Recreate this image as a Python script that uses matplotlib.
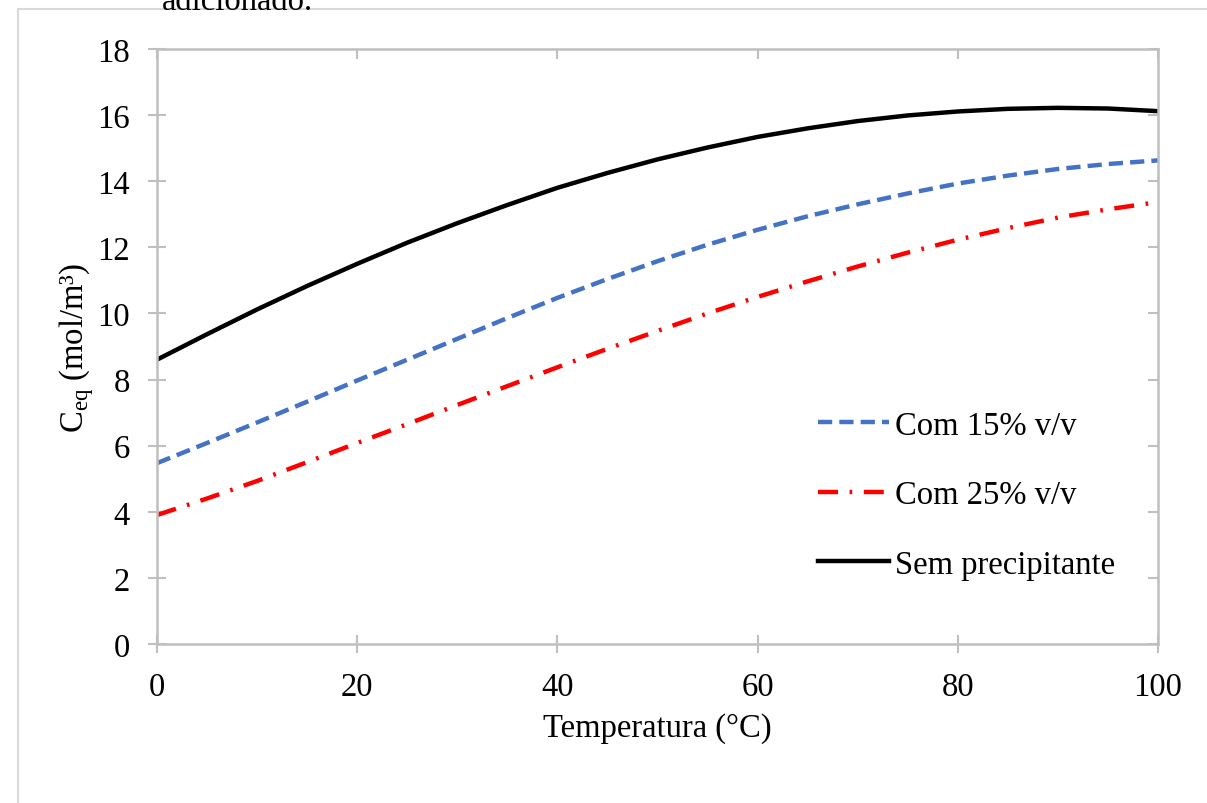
import matplotlib
matplotlib.use("Agg")
import matplotlib.pyplot as plt
from matplotlib.patches import Rectangle

plt.rcParams["font.family"] = "Liberation Serif"
plt.rcParams["mathtext.fontset"] = "custom"
plt.rcParams["mathtext.rm"] = "Liberation Serif"

temperatura = [0, 5, 10, 15, 20, 25, 30, 35, 40, 45, 50,
               55, 60, 65, 70, 75, 80, 85, 90, 95, 100]
com_15 = [5.47, 6.08, 6.70, 7.33, 7.97, 8.60, 9.23, 9.86, 10.47, 11.04, 11.58,
          12.08, 12.53, 12.94, 13.30, 13.63, 13.93, 14.17, 14.37, 14.52, 14.63]
com_25 = [3.90, 4.40, 4.93, 5.50, 6.08, 6.65, 7.23, 7.80, 8.37, 8.93, 9.47,
          10.00, 10.50, 10.97, 11.42, 11.84, 12.23, 12.58, 12.90, 13.15, 13.37]
sem_prec = [8.60, 9.37, 10.12, 10.83, 11.50, 12.14, 12.73, 13.28, 13.80, 14.25, 14.66,
            15.02, 15.34, 15.60, 15.82, 15.99, 16.11, 16.19, 16.22, 16.20, 16.12]

grid_col = "#bfbfbf"
fs = 23.5

fig = plt.figure(figsize=(12.07, 8.04), dpi=100)
ax = fig.add_axes([0.130, 0.1978, 0.8294, 0.740])

# chart border and the cut caption line above it
fig.patches.append(Rectangle((18 / 1207, -0.1), 1.2, 1 - 10 / 804 + 0.1,
                             transform=fig.transFigure, fill=False,
                             edgecolor="#d9d9d9", linewidth=1.5))
fig.text(0.134, 0.998, "adicionado.", fontsize=fs, va="center", ha="left")

ax.plot(temperatura, com_15, color="#4472c4", linewidth=3.2,
        dashes=(3.2, 1.6), label="Com 15% v/v")
ax.plot(temperatura, com_25, color="#ff0000", linewidth=3.2,
        dashes=(4.5, 2.6, 0.6, 2.6), label="Com 25% v/v")
ax.plot(temperatura, sem_prec, color="black", linewidth=3.2,
        label="Sem precipitante")

ax.set_xlim(0, 100)
ax.set_ylim(0, 18)
ax.set_xticks(range(0, 101, 20))
ax.set_yticks(range(0, 19, 2))
ax.tick_params(labelsize=fs, direction="inout", length=13, width=1.5,
               color=grid_col)
ax.tick_params(axis="x", pad=13)
ax.tick_params(axis="y", pad=13)
for s in ax.spines.values():
    s.set_color(grid_col)
    s.set_linewidth(1.8)

top = ax.secondary_xaxis("top")
top.set_xticks(range(0, 101, 20))
top.tick_params(direction="in", length=7, width=1.5, color=grid_col, labeltop=False)
top.spines["top"].set_visible(False)
right = ax.secondary_yaxis("right")
right.set_yticks(range(0, 19, 2))
right.tick_params(direction="in", length=7, width=1.5, color=grid_col, labelright=False)
right.spines["right"].set_visible(False)

ax.set_xlabel("Temperatura (°C)", fontsize=fs, labelpad=8)
ax.set_ylabel(r"C$_{\mathregular{eq}}$ (mol/m³)", fontsize=fs, labelpad=1)

ax.legend(loc="center left", bbox_to_anchor=(0.660, 0.2504), frameon=False,
          fontsize=fs, handlelength=2.2, handletextpad=0.17, labelspacing=1.2,
          borderpad=0, borderaxespad=0)

fig.savefig("out.png", dpi=100)
